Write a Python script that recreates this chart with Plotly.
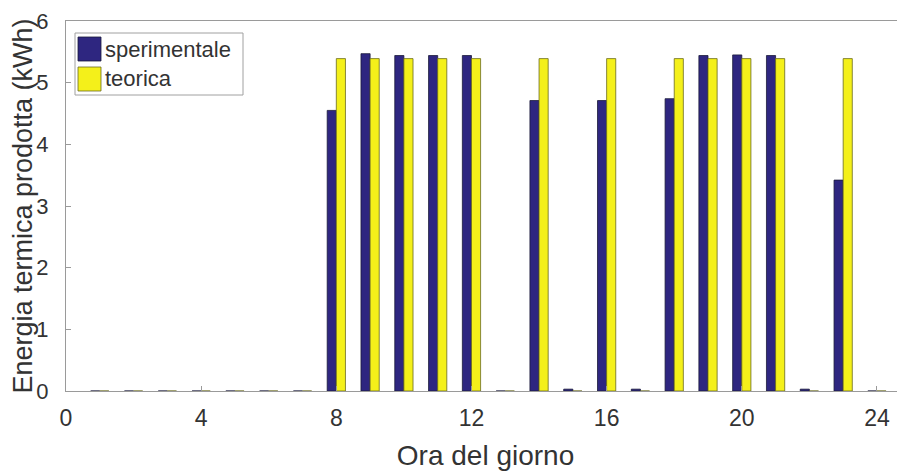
import plotly.graph_objects as go

# ---- data ----
hours = list(range(1, 25))
sperimentale = [0, 0, 0, 0, 0, 0, 0,
                4.55, 5.47, 5.44, 5.44, 5.44, 0, 4.71, 0.03, 4.71, 0.03,
                4.74, 5.44, 5.45, 5.44, 0.03, 3.42, 0]
teorica = [0, 0, 0, 0, 0, 0, 0,
           5.39, 5.39, 5.39, 5.39, 5.39, 0, 5.39, 0, 5.39, 0,
           5.39, 5.39, 5.39, 5.39, 0, 5.39, 0]
series_names = ["sperimentale", "teorica"]
x_ticks = [0, 4, 8, 12, 16, 20, 24]
y_ticks = [0, 1, 2, 3, 4, 5, 6]

DARK = "#2e2680"
YELLOW = "#f4f01a"
TEXT = "#333333"
AXIS = "#9a9a9a"
FONT = "Liberation Sans, Arial, Helvetica, sans-serif"

fig = go.Figure()
fig.add_trace(go.Bar(x=hours, y=sperimentale, name=series_names[0],
                     marker=dict(color=DARK, line=dict(color="#1a1a3a", width=0.8)),
                     showlegend=False))
fig.add_trace(go.Bar(x=hours, y=teorica, name=series_names[1],
                     marker=dict(color=YELLOW, line=dict(color="#6a6a20", width=0.8)),
                     showlegend=False))

# page body has an 8px margin: figure coords = screen coords - 8
OFF = 8
W, H = 897, 464
L, R, T, B = 58, 0, 13, 81
pw, ph = W - L - R, H - T - B

def px(xs):
    return (xs - OFF - L) / pw

def py(ys):
    return (H - B - (ys - OFF)) / ph

shapes = [
    dict(type="rect", xref="paper", yref="paper", x0=px(75), x1=px(243), y0=py(95), y1=py(33),
         line=dict(color="#a0a0a0", width=1), fillcolor="white", layer="above"),
    dict(type="rect", xref="paper", yref="paper", x0=px(78), x1=px(101), y0=py(61), y1=py(37),
         line=dict(color="#1a1a3a", width=0.8), fillcolor=DARK, layer="above"),
    dict(type="rect", xref="paper", yref="paper", x0=px(78), x1=px(101), y0=py(91), y1=py(67),
         line=dict(color="#6a6a20", width=0.8), fillcolor=YELLOW, layer="above"),
]
annotations = [
    dict(text=series_names[0], xref="paper", yref="paper", x=px(103), y=py(49),
         xanchor="left", yanchor="middle", showarrow=False,
         font=dict(family=FONT, size=22, color=TEXT)),
    dict(text=series_names[1], xref="paper", yref="paper", x=px(103), y=py(79),
         xanchor="left", yanchor="middle", showarrow=False,
         font=dict(family=FONT, size=22, color=TEXT)),
]

fig.update_layout(
    width=W, height=H,
    margin=dict(l=L, r=R, t=T, b=B, pad=0),
    plot_bgcolor="white", paper_bgcolor="white",
    barmode="group", bargap=0.46, bargroupgap=0,
    font=dict(family=FONT, color=TEXT),
    shapes=shapes, annotations=annotations,
    xaxis=dict(range=[0, 24.83], tickvals=x_ticks, ticktext=[str(v) for v in x_ticks],
               automargin=False, ticklabeloverflow="allow",
               showgrid=False, zeroline=False, showline=True, linecolor=AXIS, linewidth=1,
               mirror=True, ticks="inside", ticklen=5, tickcolor=AXIS,
               tickfont=dict(size=23, color=TEXT), ticklabelstandoff=6,
               title=dict(text="Ora del giorno", font=dict(size=28, color=TEXT), standoff=15)),
    yaxis=dict(range=[0, 6], tickvals=y_ticks, ticktext=[str(v) for v in y_ticks],
               automargin=False, ticklabeloverflow="allow",
               showgrid=False, zeroline=False, showline=True, linecolor=AXIS, linewidth=1,
               mirror=False, ticks="inside", ticklen=5, tickcolor=AXIS,
               tickfont=dict(size=22, color=TEXT), ticklabelstandoff=12,
               title=dict(text="Energia termica prodotta (kWh)", font=dict(size=27, color=TEXT),
                          standoff=0)),
)

fig.write_html("out.html")
